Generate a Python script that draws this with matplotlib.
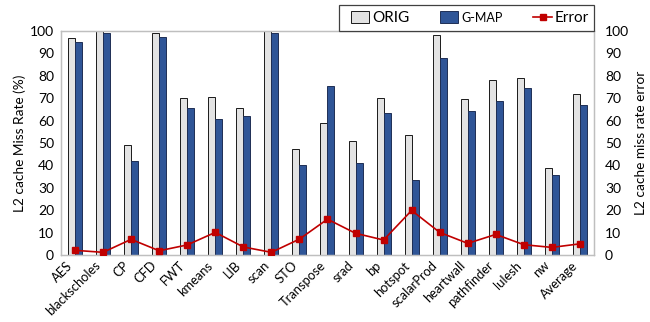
import matplotlib
matplotlib.use("Agg")
import matplotlib.pyplot as plt
import numpy as np
from matplotlib.patches import Rectangle
from matplotlib.lines import Line2D

plt.rcParams['font.family'] = ['Lato', 'DejaVu Sans']

categories = ["AES", "blackscholes", "CP", "CFD", "FWT", "kmeans", "LIB", "scan", "STO",
              "Transpose", "srad", "bp", "hotspot", "scalarProd", "heartwall", "pathfinder",
              "lulesh", "nw", "Average"]
orig = [97, 100, 49, 99, 70, 70.5, 65.5, 100, 47.5, 59, 50.8, 70, 53.4, 98.2, 69.8, 78, 79.2, 39, 72]
gmap = [95.2, 99, 42, 97.2, 65.5, 60.8, 62.1, 99, 40.3, 75.2, 41, 63.5, 33.6, 88.1, 64.4, 68.6, 74.4, 35.7, 67.1]
error = [2.1, 1.2, 7, 1.9, 4.5, 10.1, 3.6, 1.2, 7.1, 16, 9.7, 6.7, 19.9, 10.1, 5.2, 9.2, 4.6, 3.4, 5]
yticks = list(range(0, 101, 10))

fig = plt.figure(figsize=(6.5, 3.22), dpi=100)
ax = fig.add_axes([0.0938, 0.208, 0.8200, 0.696])
x = np.arange(len(categories))
w = 0.25
ax.bar(x - w/2, orig, w, color='#E3E3E3', edgecolor='#1a1a1a', linewidth=0.7, label='ORIG', zorder=2)
ax.bar(x + w/2, gmap, w, color='#2F5597', edgecolor='#1F2F55', linewidth=0.7, label='G-MAP', zorder=2)
ax.set_xlim(-0.5, len(categories) - 0.5)
ax.set_ylim(0, 100)
ax.set_yticks(yticks)
ax.set_xticks(x)
ax.set_xticklabels(categories, rotation=45, ha='right', fontsize=9.3)
ax.tick_params(axis='y', length=0, labelsize=10, pad=5)
ax.tick_params(axis='x', length=0, pad=3)
ax.set_ylabel('L2 cache Miss Rate (%)', fontsize=9.8, labelpad=3)
for s in ax.spines.values():
    s.set_color('#BFBFBF')
    s.set_linewidth(0.9)

ax2 = ax.twinx()
ax2.plot(x, error, color='#C00000', marker='s', markersize=5, linewidth=1.2, zorder=3)
ax2.set_ylim(0, 100)
ax2.set_yticks(yticks)
ax2.tick_params(axis='y', length=0, labelsize=10, pad=8)
ax2.set_ylabel('L2 cache miss rate error', fontsize=9.8, labelpad=4)
for s in ax2.spines.values():
    s.set_color('#BFBFBF')
    s.set_linewidth(0.9)

# legend frame
fig.patches.append(Rectangle((339/650, 1 - 31/322), 255/650, 26/322, transform=fig.transFigure,
                             facecolor='white', edgecolor='#404040', linewidth=0.9, zorder=5))
handles = [Rectangle((0, 0), 1, 1, facecolor='#E3E3E3', edgecolor='#1a1a1a', linewidth=0.7),
           Rectangle((0, 0), 1, 1, facecolor='#2F5597', edgecolor='#1F2F55', linewidth=0.7),
           Line2D([], [], color='#C00000', marker='s', markersize=5, linewidth=1.2)]
leg = fig.legend(handles, ['ORIG', 'G-MAP', 'Error'], loc='center', ncol=3, frameon=False,
                 bbox_to_anchor=(470/650, 1 - 18/322), fontsize=11, handlelength=1.2,
                 handleheight=0.8, handletextpad=0.2, columnspacing=2.0)
leg.set_zorder(6)
leg.get_texts()[1].set_fontsize(9)

fig.savefig('out.png', dpi=100)
